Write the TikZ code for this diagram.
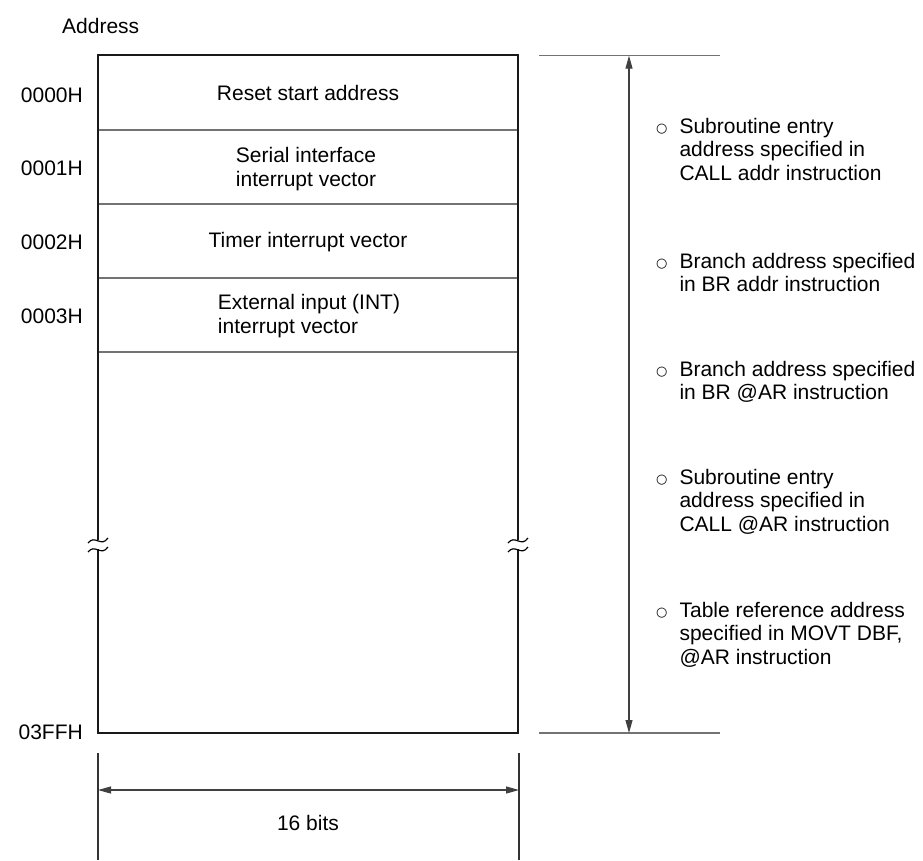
\documentclass[tikz,border=0pt]{standalone}
\usepackage{fontspec}
\setmainfont{Liberation Sans}
\newfontfamily\dejavu{DejaVu Sans}
\usetikzlibrary{arrows.meta}
\newcommand\bul{\raisebox{1pt}{\dejavu\fontsize{13}{13}\selectfont ○}}
\begin{document}
\begin{tikzpicture}[x=1pt,y=-1pt,
  lbl/.style={font=\fontsize{21}{23.5}\selectfont, inner sep=0pt},
  frame/.style={line width=2.4pt, black!90},
  sepline/.style={line width=1.4pt, black!55},
  extline/.style={line width=1.4pt, black!55},
  dimline/.style={line width=1.1pt, black!75, {Triangle[length=13pt,width=7pt]}-{Triangle[length=13pt,width=7pt]}},
  wave/.style={line width=1.2pt, black}
]
\useasboundingbox (0,0) rectangle (923,860);
% frame corners
\coordinate (tl) at (98,55);
\coordinate (tr) at (518,55);
\coordinate (bl) at (98,733);
\coordinate (br) at (518,733);
\coordinate (lga) at (98,540);
\coordinate (lgb) at (98,549);
\coordinate (rga) at (518,540);
\coordinate (rgb) at (518,549);
% frame
\draw[frame] (lga) -- (tl) -- (tr) -- (rga);
\draw[frame] (lgb) -- (bl) -- (br) -- (rgb);
% break marks
\draw[wave] (88,543) .. controls (95,534) and (101,548) .. (108,538);
\draw[wave] (88,552) .. controls (95,543) and (101,557) .. (108,547);
\draw[wave] (508,543) .. controls (515,534) and (521,548) .. (528,538);
\draw[wave] (508,552) .. controls (515,543) and (521,557) .. (528,547);
% row separators
\foreach \y/\n in {130/a,204/b,278/c,352/d}{
  \coordinate (s\n l) at (99.2,\y);
  \coordinate (s\n r) at (516.8,\y);
  \draw[sepline] (s\n l) -- (s\n r);
}
% row texts
\node[lbl] (reset) at (308,93) {Reset start address};
\node[lbl, align=center] (serial) at (306,169) {Serial interface\\interrupt vector};
\node[lbl] (timer) at (308,242) {Timer interrupt vector};
\node[lbl, align=left] (ext) at (309,316) {External input (INT)\\interrupt vector};
% address labels
\node[lbl, anchor=west] (addr) at (62,26) {Address};
\node[lbl, anchor=east] (a0) at (83,95) {0000H};
\node[lbl, anchor=east] (a1) at (83,168) {0001H};
\node[lbl, anchor=east] (a2) at (83,242) {0002H};
\node[lbl, anchor=east] (a3) at (83,316) {0003H};
\node[lbl, anchor=east] (a4) at (83,732) {03FFH};
% right extension lines and arrow
\coordinate (etl) at (539,55.7);
\coordinate (etr) at (720,55.7);
\coordinate (ebl) at (539,733);
\coordinate (ebr) at (720,733);
\draw[extline] (etl) -- (etr);
\draw[extline] (ebl) -- (ebr);
\coordinate (vt) at (629,55.7);
\coordinate (vb) at (629,733);
\draw[dimline] (vt) -- (vb);
% right texts
\node[lbl, anchor=base west] (r1) at (656,133) {\begin{tabular}[t]{@{}l@{\hspace{12pt}}l@{}}\bul & Subroutine entry\\ & address specified in\\ & CALL addr instruction\end{tabular}};
\node[lbl, anchor=base west] (r2) at (656,268) {\begin{tabular}[t]{@{}l@{\hspace{12pt}}l@{}}\bul & Branch address specified\\ & in BR addr instruction\end{tabular}};
\node[lbl, anchor=base west] (r3) at (656,376) {\begin{tabular}[t]{@{}l@{\hspace{12pt}}l@{}}\bul & Branch address specified\\ & in BR @AR instruction\end{tabular}};
\node[lbl, anchor=base west] (r4) at (656,484) {\begin{tabular}[t]{@{}l@{\hspace{12pt}}l@{}}\bul & Subroutine entry\\ & address specified in\\ & CALL @AR instruction\end{tabular}};
\node[lbl, anchor=base west] (r5) at (656,617) {\begin{tabular}[t]{@{}l@{\hspace{12pt}}l@{}}\bul & Table reference address\\ & specified in MOVT DBF,\\ & @AR instruction\end{tabular}};
% bottom dimension
\coordinate (dl1) at (98,753);
\coordinate (dl2) at (98,860);
\coordinate (dr1) at (519,753);
\coordinate (dr2) at (519,860);
\draw[line width=1.1pt, black!80] (dl1) -- (dl2);
\draw[line width=1.1pt, black!80] (dr1) -- (dr2);
\coordinate (hl) at (98,790);
\coordinate (hr) at (519,790);
\draw[dimline] (hl) -- (hr);
\node[lbl] (bits) at (308,823) {16 bits};
\end{tikzpicture}
\end{document}
